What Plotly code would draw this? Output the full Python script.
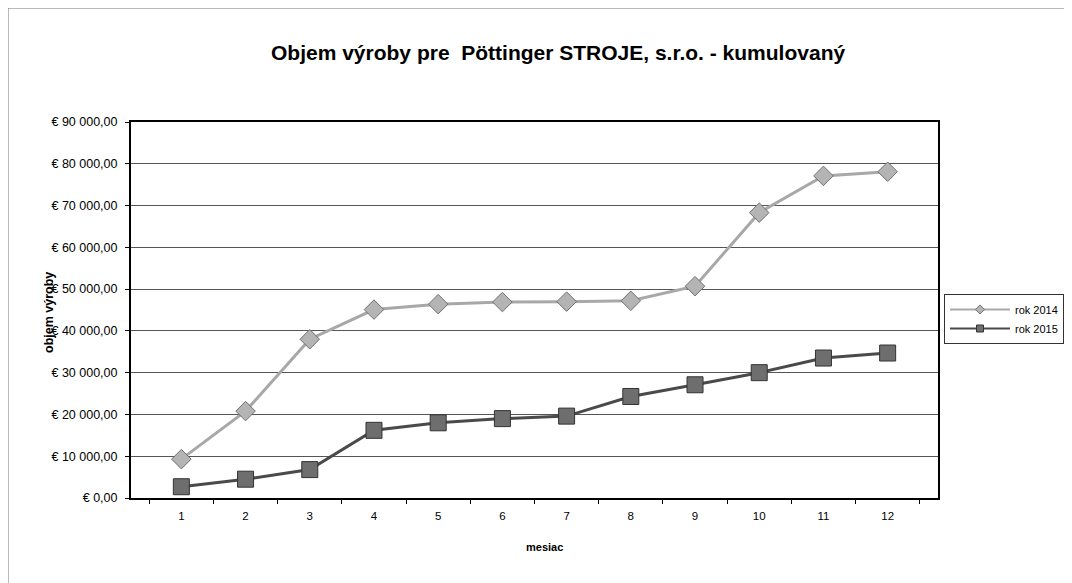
import plotly.graph_objects as go

months = [str(m) for m in range(1, 13)]
rok_2014 = [9300, 20800, 38000, 45100, 46400, 46900, 47000, 47200, 50700, 68300, 77100, 78100]
rok_2015 = [2700, 4500, 6800, 16200, 18000, 19000, 19600, 24300, 27100, 30000, 33500, 34700]
y_tick_vals = [0, 10000, 20000, 30000, 40000, 50000, 60000, 70000, 80000, 90000]
y_tick_text = ["€ 0,00", "€ 10 000,00", "€ 20 000,00", "€ 30 000,00", "€ 40 000,00",
               "€ 50 000,00", "€ 60 000,00", "€ 70 000,00", "€ 80 000,00", "€ 90 000,00"]

W, H = 1072, 583
OFF = 8  # page body margin
L, R, T, B = 131, 938, 122, 498  # target plot-area pixels in the window


def px(x):
    return (x - L) / (R - L)


def py(y):
    return (B - y) / (B - T)


style_2014 = dict(line=dict(color="#a8a8a8", width=3),
                  mcolor="#b4b4b4", mline="#707070", symbol="diamond")
style_2015 = dict(line=dict(color="#4a4a4a", width=3),
                  mcolor="#6e6e6e", mline="#333333", symbol="square")

fig = go.Figure()
for name, vals, st, size in [("rok 2014", rok_2014, style_2014, 15), ("rok 2015", rok_2015, style_2015, 16)]:
    fig.add_trace(go.Scatter(
        x=months, y=vals, name=name, mode="lines+markers", showlegend=False,
        line=st["line"],
        marker=dict(symbol=st["symbol"], size=size, color=st["mcolor"], line=dict(color=st["mline"], width=1)),
    ))
# legend entries (smaller symbols, as in the original legend)
for name, st in [("rok 2014", style_2014), ("rok 2015", style_2015)]:
    fig.add_trace(go.Scatter(
        x=[None], y=[None], name=name, mode="lines+markers", showlegend=True,
        line=dict(color=st["line"]["color"], width=2),
        marker=dict(symbol=st["symbol"], size=7, color=st["mcolor"], line=dict(color=st["mline"], width=1)),
    ))

fig.update_layout(
    width=W, height=H,
    margin=dict(l=L - OFF, r=W - (R - OFF), t=T - OFF, b=H - (B - OFF), pad=0),
    paper_bgcolor="white", plot_bgcolor="white",
    font=dict(family="Liberation Sans, Arial, sans-serif", color="black", size=11),
    showlegend=True,
    legend=dict(x=px(944), y=py(294), xanchor="left", yanchor="top",
                bordercolor="#333", borderwidth=1, bgcolor="white",
                font=dict(size=11, color="black"), tracegroupgap=8, itemwidth=60),
    annotations=[
        dict(text="<b>Objem výroby pre  Pöttinger STROJE, s.r.o. - kumulovaný</b>",
             xref="paper", yref="paper", x=px(558), y=py(53),
             xanchor="center", yanchor="middle", showarrow=False, font=dict(size=21, color="black")),
        dict(text="<b>objem výroby</b>", textangle=-90,
             xref="paper", yref="paper", x=px(49), y=py(313),
             xanchor="center", yanchor="middle", showarrow=False, font=dict(size=12.5, color="black")),
        dict(text="<b>mesiac</b>",
             xref="paper", yref="paper", x=px(544), y=py(547),
             xanchor="center", yanchor="middle", showarrow=False, font=dict(size=11, color="black")),
    ],
    shapes=[
        dict(type="line", xref="paper", yref="paper",
             x0=px(8), x1=px(1072), y0=py(8), y1=py(8),
             line=dict(color="#777", width=1)),
        dict(type="line", xref="paper", yref="paper",
             x0=px(8), x1=px(8), y0=py(8), y1=py(583),
             line=dict(color="#777", width=1)),
    ],
)
fig.update_xaxes(type="category", showline=True, linecolor="black", linewidth=2, mirror=True,
                 ticks="outside", ticklen=4, tickcolor="black", tickson="boundaries",
                 ticklabelstandoff=6,
                 showgrid=False, tickfont=dict(size=11.5, color="black"))
fig.update_yaxes(range=[0, 90000], tickvals=y_tick_vals, ticktext=y_tick_text,
                 showline=True, linecolor="black", linewidth=2, mirror=True,
                 ticks="outside", ticklen=4, tickcolor="black", ticklabelstandoff=5,
                 showgrid=True, gridcolor="#555", gridwidth=1, zeroline=False,
                 tickfont=dict(size=12.5, color="black"))

fig.write_html("out.html")
